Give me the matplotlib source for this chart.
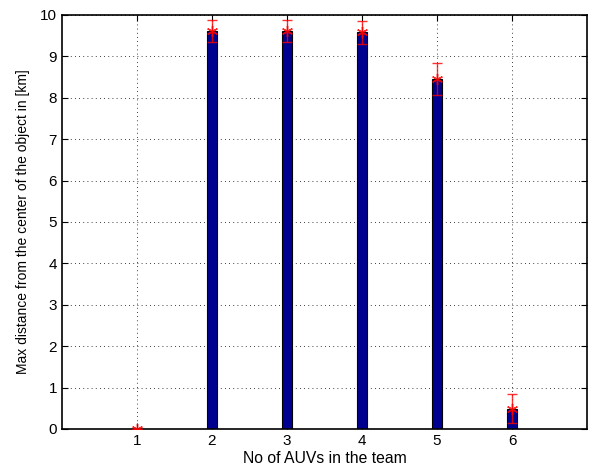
import matplotlib
matplotlib.use("Agg")
import matplotlib.pyplot as plt

plt.rcParams['font.family'] = ['Liberation Sans', 'DejaVu Sans']

# team sizes and measured max distance (km) with std deviation
team_sizes = [1, 2, 3, 4, 5, 6]
max_dist = [0.0, 9.61, 9.61, 9.58, 8.45, 0.49]
dist_err = [0.0, 0.27, 0.27, 0.28, 0.39, 0.35]

fig = plt.figure(figsize=(5.92, 4.71), dpi=100)
ax = fig.add_axes([0.1047, 0.0892, 0.9916 - 0.1047, 0.9682 - 0.0892])

ax.bar(team_sizes, max_dist, width=0.13, color='#000090', edgecolor='black',
       linewidth=0.8, zorder=2)
# MATLAB-style asterisk marker at the mean
ax.errorbar(team_sizes, max_dist, yerr=dist_err, fmt='none', ecolor='red',
            elinewidth=1.0, capsize=3.5, capthick=1.0, zorder=3, alpha=0.8)
ax.plot(team_sizes, max_dist, linestyle='none', marker=(6, 2, 0), color='red',
        markersize=8, markeredgewidth=1.0, zorder=4, alpha=0.85)

ax.set_xlim(0, 7)
ax.set_ylim(0, 10)
ax.set_xticks(team_sizes)
ax.set_yticks(range(0, 11))
ax.grid(True, linestyle=(0, (1, 4)), color='black', linewidth=0.6, zorder=0)
ax.set_axisbelow(True)
ax.tick_params(direction='in', top=True, right=True, labelsize=11, length=4)
for sp in ax.spines.values():
    sp.set_linewidth(1.2)

ax.set_xlabel('No of AUVs in the team', fontsize=11.3, labelpad=2)
ax.set_ylabel('Max distance from the center of the object in [km]', fontsize=10, labelpad=7)

fig.savefig('out.png', dpi=100)
